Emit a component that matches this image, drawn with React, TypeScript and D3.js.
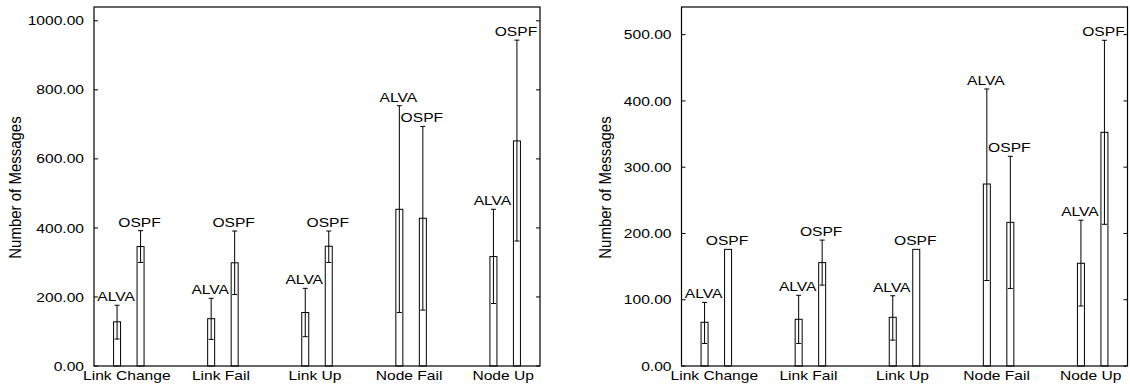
import React from "react";
import * as d3 from "d3";

const categories = ["Link Change", "Link Fail", "Link Up", "Node Fail", "Node Up"];
const series = ["ALVA", "OSPF"];

// Left chart
const alvaMean1 = [128, 137, 155, 454, 317];
const alvaLow1 = [78, 77, 85, 155, 181];
const alvaHigh1 = [176, 196, 225, 754, 454];
const ospfMean1 = [346, 299, 347, 428, 652];
const ospfLow1 = [300, 207, 300, 162, 362];
const ospfHigh1 = [392, 391, 391, 694, 944];
const yTicks1 = [0, 200, 400, 600, 800, 1000];

// Right chart
const alvaMean2 = [66, 70.5, 73.5, 274.6, 155];
const alvaLow2 = [34, 34, 39, 129, 90.5];
const alvaHigh2 = [96, 106.7, 106, 418, 220];
const ospfMean2 = [176, 156, 176, 216.8, 352.6];
const ospfLow2: (number | null)[] = [null, 122, null, 117, 213.8];
const ospfHigh2: (number | null)[] = [null, 190, null, 316.4, 491.5];
const yTicks2 = [0, 100, 200, 300, 400, 500];

const FONT = "'Liberation Sans', Arial, Helvetica, sans-serif";

type Panel = {
  left: number;
  right: number;
  yMax: number;
  ticks: number[];
  means: number[][];
  lows: (number | null)[][];
  highs: (number | null)[][];
  labelX: number;
};

const TOP = 7;
const BOTTOM = 366;
const BAR_W = 7;

function Chart({ p }: { p: Panel }) {
  const x0 = d3.scalePoint<string>().domain(categories).range([p.left, p.right]).padding(0.37);
  const x1 = d3.scaleBand<string>().domain(series).range([-23.5, 23.5]);
  const y = d3.scaleLinear().domain([0, p.yMax]).range([BOTTOM, TOP]);
  const fmt = d3.format(".2f");
  const sx = "scale(1.2,1)";

  return (
    <g fontFamily={FONT} fill="#000">
      {/* bars */}
      {categories.map((c, i) =>
        series.map((s, si) => {
          const cx = (x0(c) as number) + (x1(s) as number) + x1.bandwidth() / 2;
          const m = p.means[si][i];
          const lo = p.lows[si][i];
          const hi = p.highs[si][i];
          const topY = hi != null ? y(hi) : y(m);
          return (
            <g key={c + s}>
              <rect
                x={cx - BAR_W / 2}
                y={y(m)}
                width={BAR_W}
                height={BOTTOM - y(m)}
                fill="#fff"
                stroke="#000"
                strokeWidth={1}
              />
              {hi != null && lo != null && (
                <g stroke="#000" strokeWidth={1}>
                  <line x1={cx} x2={cx} y1={y(lo)} y2={y(hi)} />
                  <line x1={cx - 2.5} x2={cx + 2.5} y1={y(hi)} y2={y(hi)} />
                  <line x1={cx - 2.5} x2={cx + 2.5} y1={y(lo)} y2={y(lo)} />
                </g>
              )}
              <text
                transform={`translate(${cx - 1},${topY - 4}) ${sx}`}
                textAnchor="middle"
                fontSize={13}
              >
                {s}
              </text>
            </g>
          );
        })
      )}
      {/* frame */}
      <rect
        x={p.left}
        y={TOP}
        width={p.right - p.left}
        height={BOTTOM - TOP}
        fill="none"
        stroke="#000"
        strokeWidth={1.2}
      />
      {/* ticks */}
      {p.ticks.map((t) => (
        <g key={t}>
          <line x1={p.left} x2={p.left + 4} y1={y(t)} y2={y(t)} stroke="#000" />
          <line x1={p.right} x2={p.right - 4} y1={y(t)} y2={y(t)} stroke="#000" />
          <text
            transform={`translate(${p.left - 10},${y(t) + 4.6}) ${sx}`}
            textAnchor="end"
            fontSize={13}
          >
            {fmt(t)}
          </text>
        </g>
      ))}
      {/* category labels */}
      {categories.map((c) => (
        <text
          key={c}
          transform={`translate(${(x0(c) as number) - 2},380) ${sx}`}
          textAnchor="middle"
          fontSize={13}
        >
          {c}
        </text>
      ))}
      {/* y label */}
      <text
        transform={`translate(${p.labelX},${(TOP + BOTTOM) / 2 + 1}) rotate(-90) scale(1,1.1)`}
        textAnchor="middle"
        dy="0.35em"
        fontSize={15}
      >
        Number of Messages
      </text>
    </g>
  );
}

export default function App() {
  const panels: Panel[] = [
    {
      left: 94,
      right: 540,
      yMax: 1040,
      ticks: yTicks1,
      means: [alvaMean1, ospfMean1],
      lows: [alvaLow1, ospfLow1],
      highs: [alvaHigh1, ospfHigh1],
      labelX: 15,
    },
    {
      left: 681.5,
      right: 1127.5,
      yMax: 541.7,
      ticks: yTicks2,
      means: [alvaMean2, ospfMean2],
      lows: [alvaLow2, ospfLow2],
      highs: [alvaHigh2, ospfHigh2],
      labelX: 605,
    },
  ];
  return (
    <svg
      width={1130}
      height={389}
      style={{ position: "absolute", left: 0, top: 0, background: "#fff" }}
    >
      <rect width={1130} height={389} fill="#fff" />
      {panels.map((p, i) => (
        <Chart key={i} p={p} />
      ))}
    </svg>
  );
}
